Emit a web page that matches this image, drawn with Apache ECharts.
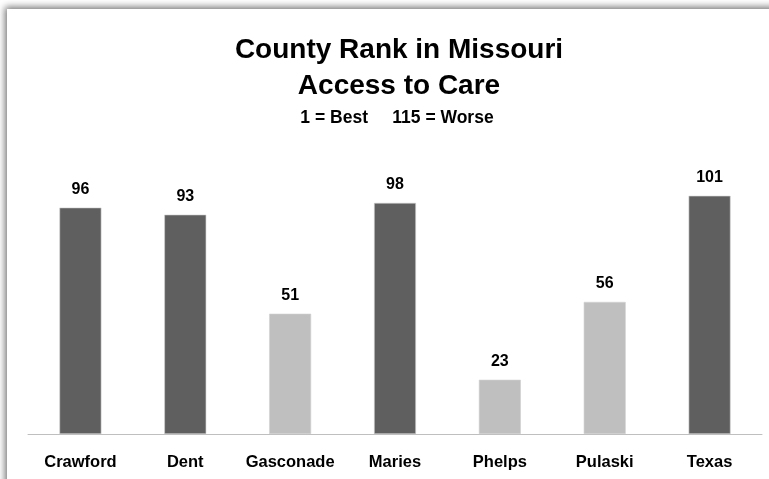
<!DOCTYPE html>
<html><head><meta charset="utf-8">
<script src="https://cdn.jsdelivr.net/npm/echarts@6/dist/echarts.min.js"></script>
<style>
html,body{margin:0;padding:0;width:769px;height:479px;overflow:hidden;background:#fff;}
#frame{position:absolute;left:7px;top:9px;width:780px;height:490px;background:#fff;box-shadow:0 0 7px 2px rgba(0,0,0,0.55);}
#chart{position:absolute;left:0;top:0;width:769px;height:479px;}
</style></head>
<body><div id="frame"></div><div id="chart"></div>
<script>
const categories = ['Crawford','Dent','Gasconade','Maries','Phelps','Pulaski','Texas'];
const ranks = [96, 93, 51, 98, 23, 56, 101];
const titleLines = ['County Rank in Missouri', 'Access to Care'];
const subtitle = '1 = Best     115 = Worse';
const worstRank = 115;

const FONT = "'Liberation Sans', Arial, sans-serif";
const chart = echarts.init(document.getElementById('chart'));
chart.setOption({
  animation: false,
  backgroundColor: 'transparent',
  title: [
    { text: titleLines.join('\n'), left: 394, textAlign: 'center', top: 27,
      textStyle: { fontFamily: FONT, fontWeight: 'bold', fontSize: 28, color: '#000', lineHeight: 36 } },
    { text: subtitle, left: 392, textAlign: 'center', top: 104,
      textStyle: { fontFamily: FONT, fontWeight: 'bold', fontSize: 17.5, color: '#000' } }
  ],
  grid: { left: 28, right: 7, top: 151, bottom: 45 },
  xAxis: {
    type: 'category', data: categories,
    axisLine: { lineStyle: { color: '#bfbfbf', width: 1 } },
    axisTick: { show: false },
    axisLabel: { interval: 0, margin: 20, fontFamily: FONT, fontWeight: 'bold', fontSize: 16.5, color: '#000' }
  },
  yAxis: { type: 'value', min: 0, max: 120, show: false, splitLine: { show: false } },
  series: [{
    type: 'bar', data: ranks, barCategoryGap: '60%',
    itemStyle: {
      color: p => p.value > worstRank / 2 ? '#5f5f5f' : '#bfbfbf',
      borderColor: '#d0d0d0', borderWidth: 0.6
    },
    label: { show: true, position: 'top', distance: 10, fontFamily: FONT, fontWeight: 'bold', fontSize: 16, color: '#000' }
  }]
});
</script></body></html>
